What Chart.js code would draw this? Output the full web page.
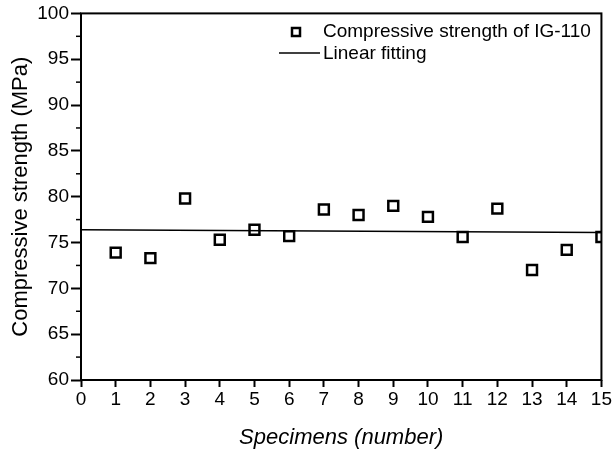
<!DOCTYPE html>
<html>
<head>
<meta charset="utf-8">
<script src="https://cdn.jsdelivr.net/npm/chart.js@4/dist/chart.umd.min.js"></script>
<style>
  html, body { margin: 0; padding: 0; background: #fff; }
  #wrap { width: 613px; height: 454px; }
</style>
</head>
<body>
<div id="wrap"><canvas id="myChart" width="613" height="454"></canvas></div>
<script>
const specimens = [1, 2, 3, 4, 5, 6, 7, 8, 9, 10, 11, 12, 13, 14, 15];
const strength = [73.9, 73.3, 79.8, 75.3, 76.4, 75.7, 78.6, 78.0, 79.0, 77.8, 75.6, 78.7, 72.0, 74.2, 75.6];

// Linear fit end points
const fitX = [0, 15];
const fitY = [76.4, 76.1];

const yMinorTicks = [62.5, 67.5, 72.5, 77.5, 82.5, 87.5, 92.5, 97.5];

const fontFamily = "'Liberation Sans', Arial, sans-serif";

// Box frame, minor ticks and legend drawn on top
const framePlugin = {
    id: "frame",
    afterDraw(chart) {
        const ctx = chart.ctx;
        const area = chart.chartArea;
        const yScale = chart.scales.y;

        ctx.save();
        ctx.strokeStyle = "#000";
        ctx.lineWidth = 2;
        ctx.strokeRect(area.left, area.top, area.right - area.left, area.bottom - area.top);

        // minor ticks on the y axis
        ctx.lineWidth = 1.5;
        yMinorTicks.forEach((v) => {
            const py = yScale.getPixelForValue(v);
            ctx.beginPath();
            ctx.moveTo(area.left - 5, py);
            ctx.lineTo(area.left, py);
            ctx.stroke();
        });

        // legend
        const ds = chart.data.datasets;
        ctx.font = "19px " + fontFamily;
        ctx.fillStyle = "#000";
        ctx.textBaseline = "middle";
        ctx.textAlign = "left";

        ctx.lineWidth = 2.5;
        ctx.strokeRect(292, 28, 8, 8);
        ctx.fillText(ds[0].label, 323, 32);

        ctx.lineWidth = 1.5;
        ctx.beginPath();
        ctx.moveTo(279, 53);
        ctx.lineTo(320, 53);
        ctx.stroke();
        ctx.fillText(ds[1].label, 323, 54);
        ctx.restore();
    }
};

const ctx = document.getElementById("myChart").getContext("2d");

new Chart(ctx, {
    type: "scatter",
    data: {
        datasets: [
            {
                label: "Compressive strength of IG-110",
                data: specimens.map((s, i) => ({ x: s, y: strength[i] })),
                pointStyle: "rect",
                pointRadius: 7,
                pointHoverRadius: 7,
                pointBorderWidth: 2.5,
                borderColor: "#000",
                backgroundColor: "rgba(0,0,0,0)",
                clip: 0,
            },
            {
                label: "Linear fitting",
                data: fitX.map((x, i) => ({ x: x, y: fitY[i] })),
                showLine: true,
                borderColor: "#000",
                borderWidth: 1.5,
                pointRadius: 0,
            },
        ],
    },
    options: {
        responsive: false,
        animation: false,
        layout: {
            padding: { left: 0, right: 11, top: 12, bottom: 0 },
        },
        plugins: {
            legend: { display: false },
            tooltip: { enabled: false },
        },
        scales: {
            x: {
                type: "linear",
                min: 0,
                max: 15,
                ticks: {
                    stepSize: 1,
                    color: "#000",
                    font: { family: fontFamily, size: 19 },
                    padding: 1,
                },
                grid: {
                    drawOnChartArea: false,
                    tickLength: 7,
                    tickWidth: 2,
                    tickColor: "#000",
                },
                border: { display: false },
                title: {
                    display: true,
                    text: "Specimens (number)",
                    color: "#000",
                    font: { family: fontFamily, size: 22, style: "italic" },
                    padding: { top: 6, bottom: 3 },
                },
                afterFit(scale) {
                    scale.height = 74;
                },
            },
            y: {
                min: 60,
                max: 100,
                ticks: {
                    stepSize: 5,
                    color: "#000",
                    font: { family: fontFamily, size: 19 },
                    padding: 2,
                },
                grid: {
                    drawOnChartArea: false,
                    tickLength: 10,
                    tickWidth: 2,
                    tickColor: "#000",
                },
                border: { display: false },
                title: {
                    display: true,
                    text: "Compressive strength (MPa)",
                    color: "#000",
                    font: { family: fontFamily, size: 22 },
                    padding: { top: 8, bottom: 2 },
                },
                afterFit(scale) {
                    scale.width = 81;
                },
            },
        },
    },
    plugins: [framePlugin],
});
</script>
</body>
</html>
